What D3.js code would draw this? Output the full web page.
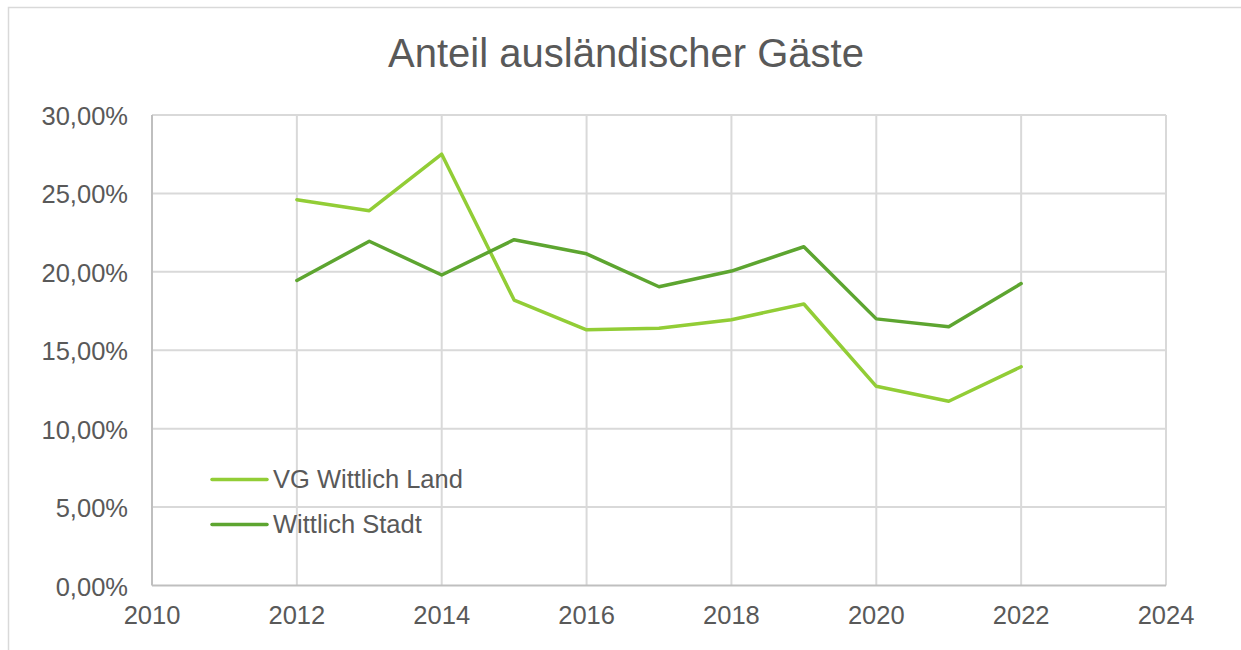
<!DOCTYPE html>
<html>
<head>
<meta charset="utf-8">
<script src="https://cdn.jsdelivr.net/npm/d3@7"></script>
<style>
  body { margin: 0; background: #fff; }
  text { font-family: "Liberation Sans", Arial, sans-serif; fill: #595959; }
</style>
</head>
<body>
<div id="chart"></div>
<script>
// values (percent)
var years = [2012, 2013, 2014, 2015, 2016, 2017, 2018, 2019, 2020, 2021, 2022];
var vgLand = [24.6, 23.9, 27.5, 18.2, 16.3, 16.4, 16.95, 17.95, 12.7, 11.75, 13.95];
var stadt = [19.45, 21.95, 19.8, 22.05, 21.15, 19.05, 20.05, 21.6, 17.0, 16.5, 19.25];
var seriesNames = ["VG Wittlich Land", "Wittlich Stadt"];
var seriesColors = ["#92cd36", "#5da530"];
var xTicks = [2010, 2012, 2014, 2016, 2018, 2020, 2022, 2024];
var yTicks = [0, 5, 10, 15, 20, 25, 30];

var W = 1241, H = 650;
var m = {left: 152, right: 1166, top: 115, bottom: 585.5};

var svg = d3.select("#chart").append("svg")
	.attr("width", W)
	.attr("height", H);

// outer chart border
svg.append("path")
	.attr("d", "M8.5,650 L8.5,7.5 L1241,7.5")
	.attr("fill", "none")
	.attr("stroke", "#d9d9d9")
	.attr("stroke-width", 1.5);

var x = d3.scaleLinear().domain([2010, 2024]).range([m.left, m.right]);
var y = d3.scaleLinear().domain([0, 30]).range([m.bottom, m.top]);

// gridlines
svg.append("g").selectAll("line")
	.data(yTicks.slice(1))
	.enter().append("line")
	.attr("x1", m.left).attr("x2", m.right)
	.attr("y1", function(d) { return y(d); })
	.attr("y2", function(d) { return y(d); })
	.attr("stroke", "#d9d9d9").attr("stroke-width", 2);

svg.append("g").selectAll("line")
	.data(xTicks.slice(1))
	.enter().append("line")
	.attr("y1", m.top).attr("y2", m.bottom)
	.attr("x1", function(d) { return x(d); })
	.attr("x2", function(d) { return x(d); })
	.attr("stroke", "#d9d9d9").attr("stroke-width", 2);

// axes lines
svg.append("line")
	.attr("x1", m.left).attr("x2", m.left)
	.attr("y1", m.top).attr("y2", m.bottom)
	.attr("stroke", "#bfbfbf").attr("stroke-width", 2);
svg.append("line")
	.attr("x1", m.left).attr("x2", m.right)
	.attr("y1", m.bottom).attr("y2", m.bottom)
	.attr("stroke", "#bfbfbf").attr("stroke-width", 2);

// tick labels
var fmt = function(d) { return d.toFixed(2).replace(".", ",") + "%"; };

svg.append("g").selectAll("text")
	.data(yTicks)
	.enter().append("text")
	.attr("x", 128)
	.attr("y", function(d) { return y(d) + 10; })
	.attr("text-anchor", "end")
	.style("font-size", "25.5px")
	.text(fmt);

svg.append("g").selectAll("text")
	.data(xTicks)
	.enter().append("text")
	.attr("x", function(d) { return x(d); })
	.attr("y", 624)
	.attr("text-anchor", "middle")
	.style("font-size", "25.5px")
	.text(function(d) { return d; });

// title
svg.append("text")
	.attr("x", 626)
	.attr("y", 66.5)
	.attr("text-anchor", "middle")
	.style("font-size", "40px")
	.text("Anteil ausländischer Gäste");

// lines
var line = d3.line()
	.x(function(d, i) { return x(years[i]); })
	.y(function(d) { return y(d); });

[vgLand, stadt].forEach(function(s, i) {
	svg.append("path")
		.datum(s)
		.attr("d", line)
		.attr("fill", "none")
		.attr("stroke", seriesColors[i])
		.attr("stroke-width", 3.5)
		.attr("stroke-linejoin", "round")
		.attr("stroke-linecap", "round");
});

// legend
var legY = [479.5, 524.5];
seriesNames.forEach(function(n, i) {
	svg.append("line")
		.attr("x1", 212).attr("x2", 267)
		.attr("y1", legY[i]).attr("y2", legY[i])
		.attr("stroke", seriesColors[i])
		.attr("stroke-width", 3.5)
		.attr("stroke-linecap", "round");
	svg.append("text")
		.attr("x", 273)
		.attr("y", legY[i] + 8)
		.style("font-size", "25.5px")
		.text(n);
});
</script>
</body>
</html>
